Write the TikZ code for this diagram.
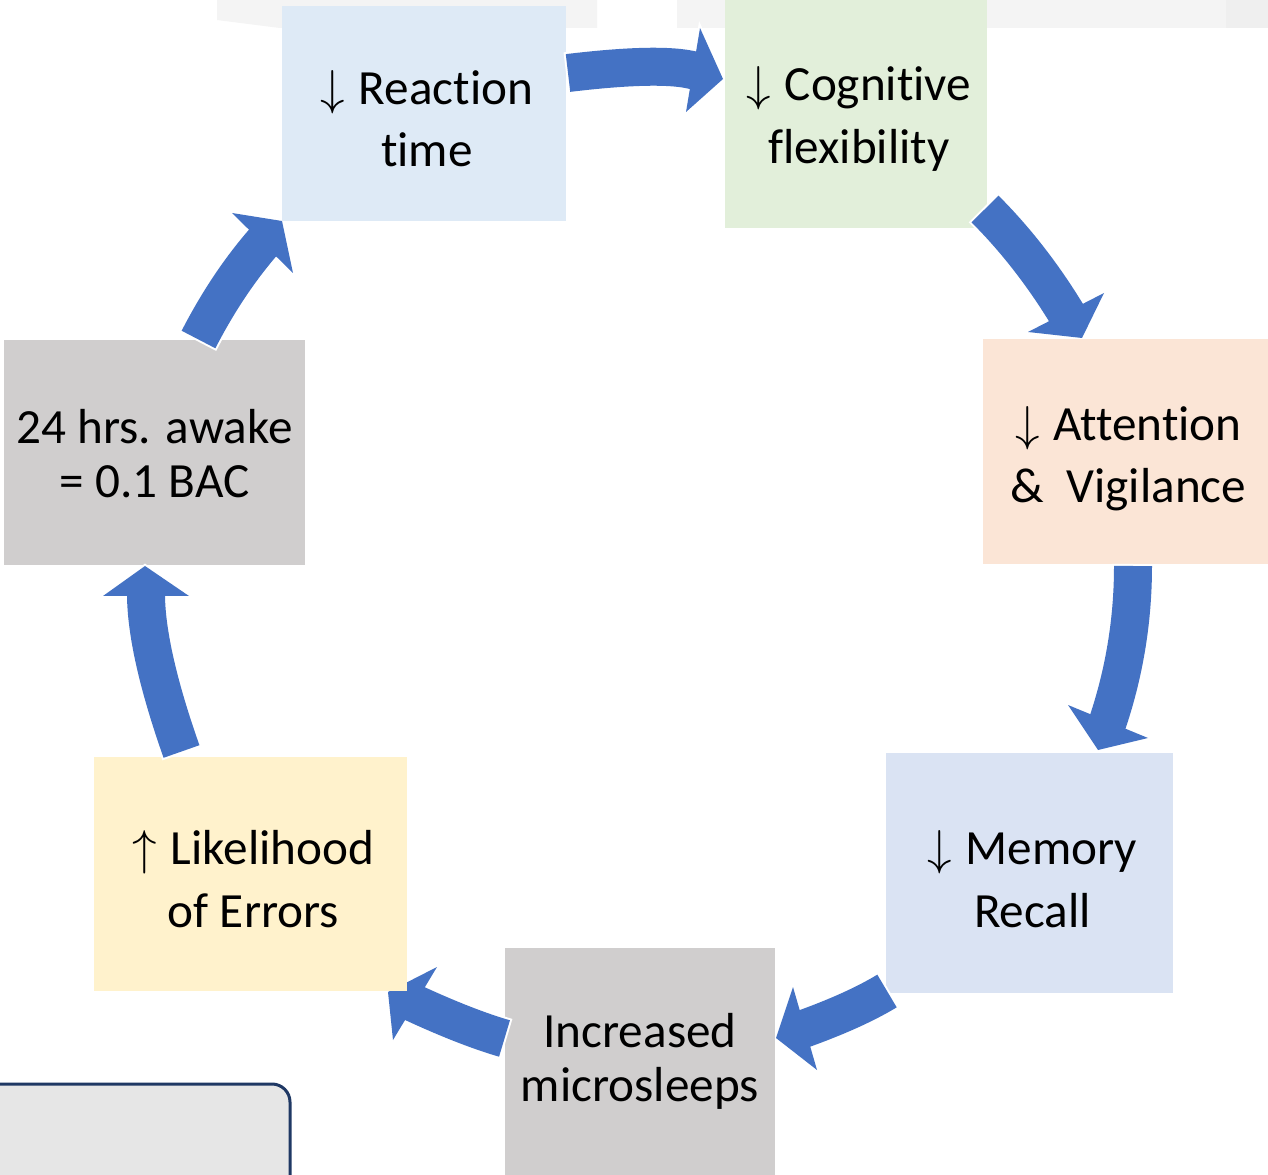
\documentclass[tikz,border=0pt]{standalone}
\usepackage{fontspec}
\setmainfont{Carlito}[Ligatures=NoCommon]
\usetikzlibrary{calc}
\definecolor{arrowblue}{HTML}{4472C4}
\definecolor{reactfill}{HTML}{DEEAF6}
\definecolor{cognfill}{HTML}{E2EFDA}
\definecolor{attnfill}{HTML}{FBE5D6}
\definecolor{memfill}{HTML}{DAE3F3}
\definecolor{grayfill}{HTML}{D0CECE}
\definecolor{likefill}{HTML}{FFF2CC}
\definecolor{panelfill}{HTML}{E6E6E6}
\definecolor{panelline}{HTML}{1F3864}
\definecolor{bandA}{HTML}{F4F4F4}
\definecolor{bandB}{HTML}{EFEFEF}
\newcommand{\dn}{\scalebox{1.12}{$\downarrow$}\hspace{0.05em} }
\newcommand{\upa}{\scalebox{1.12}{$\uparrow$}\hspace{0.05em} }
\tikzset{
  box/.style={rectangle, inner sep=0pt, draw=none},
  txt/.style={inner sep=0pt, align=center, text=black,
    font=\fontsize{28}{35.5}\selectfont},
  txttight/.style={txt, font=\fontsize{28}{31}\selectfont},
  abodyw/.style={draw=white, line width=0.84cm, shorten <=-0.04cm},
  abody/.style={draw=arrowblue, line width=0.76cm},
  aheadw/.style={draw=white, fill=white, line width=0.08cm, line join=miter},
  ahead/.style={fill=arrowblue},
}
\newcommand{\cyclearrow}[7]{%
  \coordinate (#7t) at #1; \coordinate (#7c) at #2; \coordinate (#7e) at #3;
  \coordinate (#7a) at #4; \coordinate (#7p) at #5; \coordinate (#7b) at #6;
  \coordinate (#7k) at ($(#7t)!0.6667!(#7c)$);
  \coordinate (#7m) at ($(#7e)!0.6667!(#7c)$);
  \draw[abodyw] (#7t) .. controls (#7k) and (#7m) .. (#7e);
  \draw[aheadw] (#7a) -- (#7p) -- (#7b) -- cycle;
  \draw[abody] (#7t) .. controls (#7k) and (#7m) .. (#7e);
  \fill[ahead] (#7a) -- (#7p) -- (#7b) -- cycle;
}
\begin{document}
\begin{tikzpicture}[x=0.02cm,y=-0.02cm]
\useasboundingbox (0,0) rectangle (1268,1175);
\clip (0,0) rectangle (1268,1175);
\fill[white] (0,0) rectangle (1268,1175);
% faint background bands at top
\fill[bandA] (217,0) -- (217,20) -- (280,28) -- (597,28) -- (597,0) -- cycle;
\fill[bandA] (677,0) rectangle (1268,28);
\fill[bandB] (1226,0) rectangle (1268,28);
% rounded panel bottom left
\draw[draw=panelline, fill=panelfill, line width=0.06cm, rounded corners=0.36cm]
  (-30,1084) rectangle (290,1230);
% cycle
\node[box, fill=grayfill, minimum width=6.02cm, minimum height=4.5cm]
  (awake) at (154.5,452.5) {};
\node[txttight] (awakeT) at ([yshift=-0.02cm]awake.center) {24 hrs. awake\\= 0.1 BAC};
\cyclearrow{(198.5,339.5)}{(228.4,281.5)}{(266.5,238.5)}{(232,213)}{(282,221)}{(293,273)}{g}
\node[box, fill=reactfill, minimum width=5.68cm, minimum height=4.3cm]
  (react) at (424,113.5) {};
\node[txt] (reactT) at ([xshift=0.06cm,yshift=-0.1cm]react.center) {\dn Reaction\\time};
\cyclearrow{(568,73)}{(668,61)}{(699,72)}{(700,28)}{(723,79)}{(686,112)}{a}
\node[box, fill=cognfill, minimum width=5.24cm, minimum height=4.56cm]
  (cogn) at (856,114) {};
\node[txt] (cognT) at ([xshift=0.06cm,yshift=-0.1cm]cogn.center) {\dn Cognitive\\flexibility};
\cyclearrow{(985,209)}{(1032,256)}{(1069,317.6)}{(1028,332)}{(1082,338)}{(1104,293)}{b}
\node[box, fill=attnfill, minimum width=5.7cm, minimum height=4.5cm]
  (attn) at (1125.5,451.5) {};
\node[txt] (attnT) at ([xshift=0.06cm,yshift=-0.14cm]attn.center) {\dn Attention\\\&~~Vigilance};
\cyclearrow{(1133,566)}{(1133,649)}{(1106,727)}{(1068,705)}{(1098,750)}{(1148,738)}{c}
\node[box, fill=memfill, minimum width=5.74cm, minimum height=4.8cm]
  (mem) at (1029.5,873) {};
\node[txt] (memT) at ([xshift=0.06cm,yshift=-0.12cm]mem.center) {\dn Memory\\Recall};
\cyclearrow{(887,991)}{(854,1011)}{(799.3,1030.4)}{(793,987)}{(776,1038)}{(817,1070)}{d}
\node[box, fill=grayfill, minimum width=5.4cm, minimum height=4.54cm]
  (micro) at (640,1061.5) {};
\node[txttight] (microT) at (micro.center) {Increased\\microsleeps};
\cyclearrow{(504.5,1038.5)}{(465,1027)}{(409.5,1001.1)}{(437,967)}{(388,992)}{(393,1040)}{e}
\node[box, fill=likefill, minimum width=6.26cm, minimum height=4.68cm]
  (errors) at (250.5,874) {};
\node[txt] (errorsT) at ([xshift=0.06cm,yshift=-0.1cm]errors.center) {\upa Likelihood\\of Errors};
\cyclearrow{(181.5,751.5)}{(145,648)}{(146,590)}{(103,596)}{(145,566)}{(189,596)}{f}
\end{tikzpicture}
\end{document}
